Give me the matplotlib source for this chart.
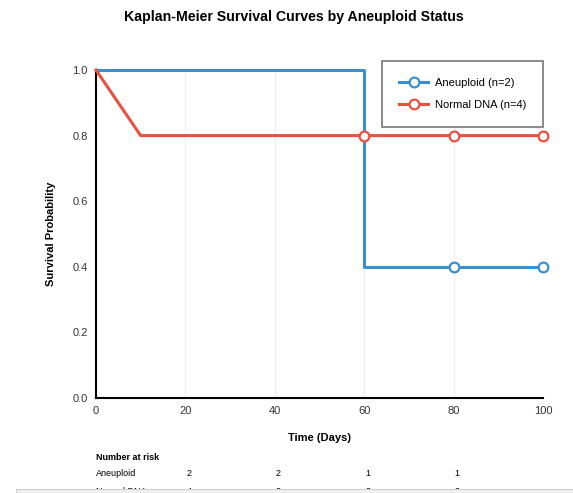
import matplotlib.pyplot as plt

plt.rcParams['font.family'] = ['Liberation Sans', 'DejaVu Sans']

# curves (time, survival)
aneu_t = [0, 60, 60, 80, 100]
aneu_s = [1.0, 1.0, 0.4, 0.4, 0.4]
aneu_cens_t = [80, 100]
aneu_cens_s = [0.4, 0.4]

norm_t = [0, 10, 60, 80, 100]
norm_s = [1.0, 0.8, 0.8, 0.8, 0.8]
norm_cens_t = [60, 80, 100]
norm_cens_s = [0.8, 0.8, 0.8]

risk_times = [20, 40, 60, 80]
risk_aneu = [2, 2, 1, 1]
risk_norm = [4, 3, 3, 3]

blue = '#3a8fd1'
red = '#e8513f'

fig = plt.figure(figsize=(5.73, 4.93), dpi=100)
ax = fig.add_axes([0.1675, 0.1927, 0.7801, 0.6653])

ax.plot(aneu_t, aneu_s, color=blue, lw=2.2, clip_on=False, zorder=3)
ax.plot(aneu_cens_t, aneu_cens_s, 'o', ms=7, mfc='white', mec=blue, mew=1.6,
        clip_on=False, zorder=4)
ax.plot(norm_t, norm_s, color=red, lw=2.2, clip_on=False, zorder=3)
ax.plot(norm_cens_t, norm_cens_s, 'o', ms=7, mfc='white', mec=red, mew=1.6,
        clip_on=False, zorder=5)

# legend handles
la, = ax.plot([], [], '-o', color=blue, lw=2.2, ms=7, mfc='white', mew=1.6)
ln, = ax.plot([], [], '-o', color=red, lw=2.2, ms=7, mfc='white', mew=1.6)
leg = ax.legend([la, ln], ['Aneuploid (n=2)', 'Normal DNA (n=4)'],
                loc='upper right', bbox_to_anchor=(1.008, 1.039), fontsize=8,
                fancybox=False, framealpha=1, edgecolor='#777777',
                borderpad=1.55, labelspacing=1.1, handlelength=2.6,
                handletextpad=0.6, borderaxespad=0.3)
leg.get_frame().set_linewidth(1.2)

ax.set_xlim(0, 100)
ax.set_ylim(0, 1.0)
ax.set_xticks([0, 20, 40, 60, 80, 100])
ax.set_yticks([0.0, 0.2, 0.4, 0.6, 0.8, 1.0])
ax.set_yticklabels(['0.0', '0.2', '0.4', '0.6', '0.8', '1.0'])
ax.tick_params(length=0, labelsize=8, colors='#333333', pad=6)
ax.grid(axis='x', color='#eeeeee', lw=0.8)
for s in ['top', 'right']:
    ax.spines[s].set_visible(False)
for s in ['left', 'bottom']:
    ax.spines[s].set_linewidth(1.5)
    ax.spines[s].set_color('black')

ax.set_xlabel('Time (Days)', fontsize=8, fontweight='bold', labelpad=12)
ax.set_ylabel('Survival Probability', fontsize=8, fontweight='bold', labelpad=12)
fig.suptitle('Kaplan-Meier Survival Curves by Aneuploid Status', fontsize=10.2,
             fontweight='bold', x=0.513, y=0.98)

# number at risk table
fig.text(96 / 573, 1 - 457 / 493, 'Number at risk', fontsize=6.5, fontweight='bold',
         va='center')
for y, name, vals in [(474, 'Aneuploid', risk_aneu), (491, 'Normal DNA', risk_norm)]:
    fig.text(96 / 573, 1 - y / 493, name, fontsize=6.5, va='center')
    for t, v in zip(risk_times, vals):
        xpix = 96 + (543 - 96) * t / 100 + 1
        fig.text(xpix / 573, 1 - y / 493, str(v), fontsize=6.5, va='center')

# page cut at the bottom
fig.patches.append(plt.Rectangle((16 / 573, 0), 1, 4 / 493, transform=fig.transFigure,
                                 facecolor='#f0f0f0', edgecolor='#d0d0d0', lw=0.8,
                                 zorder=10))

fig.savefig('out.png', dpi=100)
